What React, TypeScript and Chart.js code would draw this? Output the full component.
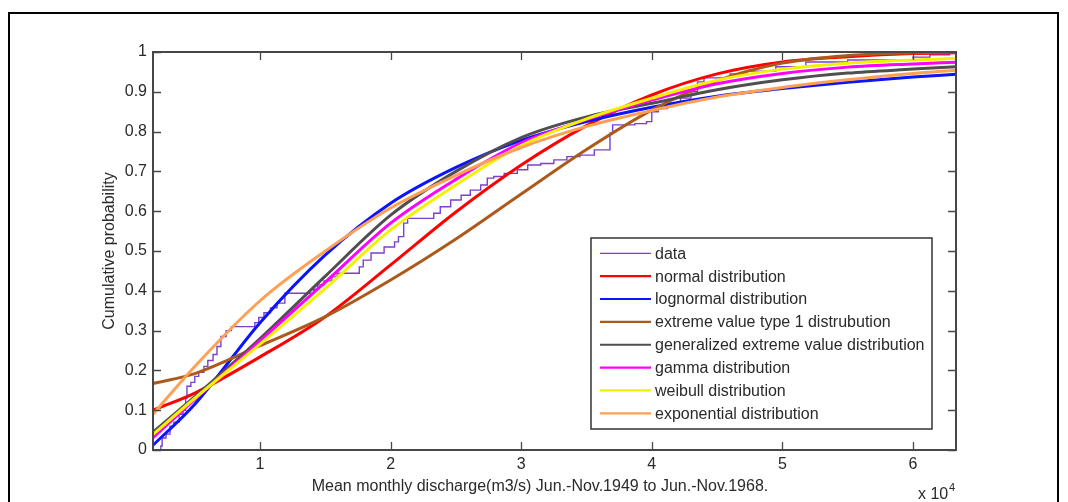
import React, { useEffect, useRef } from "react";
import { Chart, registerables } from "chart.js";

Chart.register(...registerables);

// x values in units of 10^4 m3/s
const xGrid = [0.18, 0.5, 1, 1.5, 2, 2.5, 3, 3.5, 4, 4.5, 5, 5.5, 6, 6.33];

const normalCdf = [0.1, 0.143, 0.234, 0.335, 0.465, 0.598, 0.716, 0.815, 0.892, 0.945, 0.975, 0.988, 0.996, 0.998];
const lognormalCdf = [0.012, 0.115, 0.32, 0.49, 0.62, 0.71, 0.778, 0.825, 0.861, 0.889, 0.908, 0.924, 0.937, 0.944];
const ev1Cdf = [0.167, 0.192, 0.262, 0.335, 0.427, 0.53, 0.643, 0.755, 0.854, 0.928, 0.972, 0.991, 0.998, 1.0];
const gevCdf = [0.045, 0.134, 0.28, 0.437, 0.59, 0.7, 0.785, 0.837, 0.871, 0.905, 0.93, 0.947, 0.957, 0.963];
const gammaCdf = [0.031, 0.127, 0.274, 0.422, 0.57, 0.68, 0.772, 0.83, 0.879, 0.92, 0.946, 0.962, 0.97, 0.974];
const weibullCdf = [0.039, 0.13, 0.266, 0.406, 0.553, 0.666, 0.765, 0.832, 0.884, 0.929, 0.957, 0.972, 0.98, 0.984];
const exponentialCdf = [0.09, 0.21, 0.375, 0.5, 0.608, 0.69, 0.76, 0.813, 0.853, 0.887, 0.911, 0.93, 0.946, 0.954];

// empirical CDF (step points: x where the jump happens, value after the jump)
const dataX = [0.18, 0.24, 0.25, 0.28, 0.31, 0.34, 0.38, 0.41, 0.43, 0.44, 0.47, 0.5, 0.53, 0.57, 0.6, 0.64, 0.67, 0.7, 0.74, 0.78, 0.96, 0.99, 1.03, 1.08, 1.13, 1.19, 1.41, 1.44, 1.49, 1.55, 1.59, 1.76, 1.79, 1.85, 1.95, 2.03, 2.06, 2.1, 2.13, 2.33, 2.38, 2.46, 2.54, 2.61, 2.69, 2.74, 2.79, 2.87, 2.97, 3.05, 3.15, 3.25, 3.35, 3.45, 3.56, 3.68, 3.7, 3.87, 3.96, 4.0, 4.05, 4.12, 4.22, 4.3, 4.35, 4.4, 4.6, 4.73, 4.95, 5.18, 5.5, 6.0, 6.13, 6.28, 6.33];
const dataY = [0, 0.01, 0.03, 0.04, 0.06, 0.07, 0.09, 0.1, 0.13, 0.16, 0.17, 0.185, 0.195, 0.21, 0.225, 0.24, 0.26, 0.285, 0.3, 0.31, 0.32, 0.333, 0.345, 0.357, 0.369, 0.394, 0.404, 0.415, 0.425, 0.435, 0.444, 0.46, 0.477, 0.495, 0.51, 0.523, 0.536, 0.57, 0.582, 0.595, 0.611, 0.628, 0.64, 0.653, 0.666, 0.683, 0.687, 0.695, 0.704, 0.716, 0.72, 0.729, 0.737, 0.741, 0.754, 0.796, 0.817, 0.82, 0.825, 0.85, 0.858, 0.871, 0.884, 0.9, 0.925, 0.935, 0.945, 0.952, 0.963, 0.975, 0.98, 0.987, 0.993, 1.0, 1.0];

const seriesLabels = [
  "data",
  "normal distribution",
  "lognormal distribution",
  "extreme value type 1 distrubution",
  "generalized extreme value distribution",
  "gamma distribution",
  "weibull distribution",
  "exponential distribution",
];
const seriesColors = ["#7b3fd0", "#ff0000", "#0a14ff", "#ac5a1c", "#4f4f4f", "#ff00ff", "#f2f200", "#ffa055"];

const xTicks = [1, 2, 3, 4, 5, 6];
const FONT = "'Liberation Sans', Arial, sans-serif";
const TEXT = "#2a2a2a";

const framePlugin = {
  id: "matlabFrame",
  afterDraw(chart: any) {
    const { ctx, chartArea: a, scales } = chart;
    const xs = scales.x;
    const ys = scales.y;
    ctx.save();
    // outer figure border
    ctx.strokeStyle = "#000";
    ctx.lineWidth = 2;
    ctx.strokeRect(9, 13, 1049, 520);

    // axes box
    ctx.strokeStyle = "#474747";
    ctx.lineWidth = 2;
    ctx.strokeRect(a.left, a.top, a.right - a.left, a.bottom - a.top);

    // inward ticks
    ctx.lineWidth = 1.3;
    xs.ticks.forEach((t: any) => {
      const px = Math.round(xs.getPixelForValue(t.value)) + 0.5;
      ctx.beginPath();
      ctx.moveTo(px, a.bottom);
      ctx.lineTo(px, a.bottom - 8);
      ctx.moveTo(px, a.top);
      ctx.lineTo(px, a.top + 8);
      ctx.stroke();
    });
    ys.ticks.forEach((t: any) => {
      const py = Math.round(ys.getPixelForValue(t.value)) + 0.5;
      ctx.beginPath();
      ctx.moveTo(a.left, py);
      ctx.lineTo(a.left + 8, py);
      ctx.moveTo(a.right, py);
      ctx.lineTo(a.right - 8, py);
      ctx.stroke();
    });

    // axis titles
    ctx.fillStyle = TEXT;
    ctx.font = `16px ${FONT}`;
    ctx.textAlign = "center";
    ctx.textBaseline = "alphabetic";
    ctx.fillText("Mean monthly discharge(m3/s) Jun.-Nov.1949 to Jun.-Nov.1968.", 540, 491);
    ctx.save();
    ctx.translate(114, (a.top + a.bottom) / 2);
    ctx.rotate(-Math.PI / 2);
    ctx.fillText("Cumulative probability", 0, 0);
    ctx.restore();
    ctx.textAlign = "left";
    ctx.fillText("x 10", 918, 499);
    ctx.font = `11px ${FONT}`;
    ctx.fillText("4", 949, 491);

    // legend
    const lx0 = 591, ly0 = 238, lx1 = 932, ly1 = 429;
    ctx.fillStyle = "#fff";
    ctx.fillRect(lx0, ly0, lx1 - lx0, ly1 - ly0);
    ctx.strokeStyle = "#333";
    ctx.lineWidth = 1.5;
    ctx.strokeRect(lx0, ly0, lx1 - lx0, ly1 - ly0);
    ctx.font = `16px ${FONT}`;
    ctx.textBaseline = "middle";
    chart.data.datasets.forEach((ds: any, i: number) => {
      const y = 253.3 + i * 22.86;
      ctx.strokeStyle = ds.borderColor;
      ctx.lineWidth = i === 0 ? 1.3 : 2.2;
      ctx.beginPath();
      ctx.moveTo(600, y);
      ctx.lineTo(651, y);
      ctx.stroke();
      ctx.fillStyle = TEXT;
      ctx.fillText(ds.label, 655, y + 1);
    });
    ctx.restore();
  },
};

export default function App() {
  const ref = useRef<HTMLCanvasElement | null>(null);
  useEffect(() => {
    if (!ref.current) return;
    const curves = [normalCdf, lognormalCdf, ev1Cdf, gevCdf, gammaCdf, weibullCdf, exponentialCdf];
    const datasets: any[] = [
      {
        label: seriesLabels[0],
        data: dataX.map((x, i) => ({ x, y: dataY[i] })),
        borderColor: seriesColors[0],
        borderWidth: 1.4,
        pointRadius: 0,
        stepped: "before",
        fill: false,
        order: 10,
      },
      ...curves.map((arr, k) => ({
        label: seriesLabels[k + 1],
        data: xGrid.map((x, i) => ({ x, y: arr[i] })),
        borderColor: seriesColors[k + 1],
        borderWidth: 3,
        pointRadius: 0,
        cubicInterpolationMode: "monotone",
        fill: false,
        order: 9 - k,
      })),
    ];
    const chart = new Chart(ref.current, {
      type: "line",
      data: { datasets },
      plugins: [framePlugin],
      options: {
        animation: false,
        responsive: false,
        layout: { padding: { left: 103, right: 112, top: 52, bottom: 22 } },
        plugins: { legend: { display: false }, tooltip: { enabled: false } },
        scales: {
          x: {
            type: "linear",
            min: 0.18,
            max: 6.33,
            grid: { display: false, drawTicks: false },
            border: { display: false },
            afterFit: (s: any) => { s.height = 30; },
            afterBuildTicks: (s: any) => { s.ticks = xTicks.map((v) => ({ value: v })); },
            ticks: {
              includeBounds: false,
              padding: 5,
              color: TEXT,
              font: { family: FONT, size: 16 },
              callback: (v: any) => String(v),
            },
          },
          y: {
            type: "linear",
            min: 0,
            max: 1,
            grid: { display: false, drawTicks: false },
            border: { display: false },
            afterFit: (s: any) => { s.width = 50; },
            ticks: {
              stepSize: 0.1,
              padding: 6,
              color: TEXT,
              font: { family: FONT, size: 16 },
              callback: (v: any) => String(Number(Number(v).toFixed(1))),
            },
          },
        },
      } as any,
    });
    return () => chart.destroy();
  }, []);
  return (
    <div style={{ position: "absolute", left: 0, top: 0, width: 1068, height: 502, background: "#fff" }}>
      <canvas ref={ref} width={1068} height={502} />
    </div>
  );
}
